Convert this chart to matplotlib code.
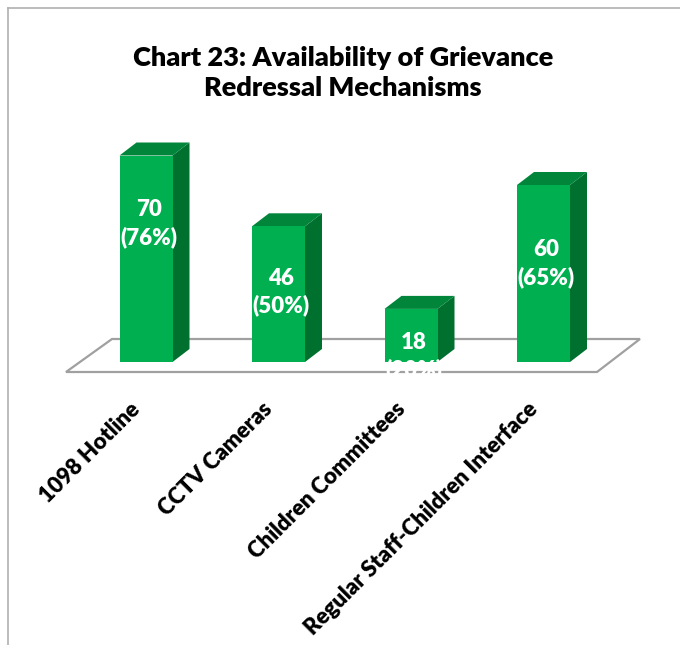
import matplotlib
matplotlib.use('Agg')
import matplotlib.pyplot as plt
from matplotlib.patches import Polygon
from matplotlib.lines import Line2D

# data
categories = ['1098 Hotline', 'CCTV Cameras', 'Children Committees',
              'Regular Staff-Children Interface']
counts = [70, 46, 18, 60]
percents = [76, 50, 20, 65]
title = 'Chart 23: Availability of Grievance\nRedressal Mechanisms'

# layout (pixel geometry of the reference, 680x645)
W, H = 680, 645
X0_PX, STEP_PX = 146, 132.5       # first bar centre, bar spacing
Y0_PX, UNIT_PX = 362, 2.95        # baseline, px per count
BAR_W = 0.4
DEPTH_DX, DEPTH_DY = 17 / STEP_PX, 13 / UNIT_PX
label_y = [46.8, 23.7, 2.0, 33.2]   # centre of the two-line value label

FRONT, TOP, SIDE = '#00B050', '#00853A', '#00702F'
FONT = ['Lato', 'DejaVu Sans']
WEIGHT = 800

def px_x(p):
    return (p - X0_PX) / STEP_PX

def px_y(p):
    return (Y0_PX - p) / UNIT_PX

fig = plt.figure(figsize=(W / 100, H / 100), dpi=100)
ax = fig.add_axes([0, 0, 1, 1])
ax.set_xlim(px_x(0), px_x(W))
ax.set_ylim(px_y(H), px_y(0))
ax.axis('off')

# floor
floor = Polygon([(px_x(112), px_y(339)), (px_x(640), px_y(339)),
                 (px_x(597), px_y(372)), (px_x(66), px_y(372))],
                closed=True, facecolor='white', edgecolor='#a0a0a0', lw=1.6,
                zorder=1)
ax.add_patch(floor)

xs = list(range(len(categories)))
ax.bar(xs, counts, width=BAR_W, color=FRONT, zorder=3)
for x, v in zip(xs, counts):
    l, r = x - BAR_W / 2, x + BAR_W / 2
    ax.add_patch(Polygon([(r, 0), (r + DEPTH_DX, DEPTH_DY),
                          (r + DEPTH_DX, v + DEPTH_DY), (r, v)],
                         closed=True, facecolor=SIDE, lw=0, zorder=2))
    ax.add_patch(Polygon([(l, v), (l + DEPTH_DX, v + DEPTH_DY),
                          (r + DEPTH_DX, v + DEPTH_DY), (r, v)],
                         closed=True, facecolor=TOP, lw=0, zorder=2))

for x, c, p, y in zip(xs, counts, percents, label_y):
    ax.text(x + 0.02, y, f'{c}\n({p}%)', ha='center', va='center',
            color='white', fontsize=16, fontweight=WEIGHT, family=FONT,
            linespacing=1.35, zorder=5)

# rotated category labels
for x, name in zip(xs, categories):
    ax.text(x - 9 / STEP_PX, px_y(406), name, rotation=45,
            rotation_mode='anchor', ha='right', va='center', fontsize=16,
            fontweight=WEIGHT, family=FONT, color='black', zorder=5)

fig.text(343 / W, 1 - 72.5 / H, title, ha='center', va='center',
         fontsize=19.5, fontweight=WEIGHT, family=FONT, linespacing=1.3)

# chart frame (only top and left edges visible)
fig.add_artist(Line2D([8 / W, 8 / W], [0, 1 - 8 / H], transform=fig.transFigure,
                      color='#b0b0b0', lw=1.2))
fig.add_artist(Line2D([8 / W, 1], [1 - 8 / H, 1 - 8 / H], transform=fig.transFigure,
                      color='#b0b0b0', lw=1.2))

fig.savefig('out.png', dpi=100)
